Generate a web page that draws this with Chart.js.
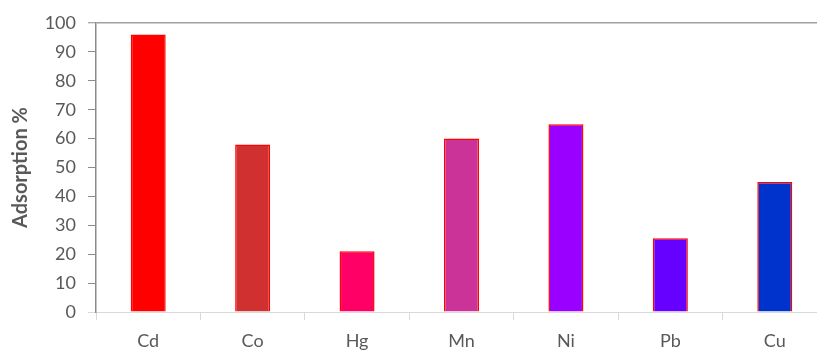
<!DOCTYPE html>
<html>
<head>
<meta charset="utf-8">
<script src="https://cdn.jsdelivr.net/npm/chart.js@4.4.1/dist/chart.umd.min.js"></script>
<style>
  html, body { margin: 0; padding: 0; background: #ffffff; overflow: hidden; }
  #wrap { width: 840px; height: 353px; }
</style>
</head>
<body>
<div id="wrap"><canvas id="chart" width="840" height="353"></canvas></div>
<script>
// Metal ions and their adsorption percentages
const metals = ['Cd', 'Co', 'Hg', 'Mn', 'Ni', 'Pb', 'Cu'];
const adsorption = [96, 58, 21, 60, 65, 25.5, 45];
const barColors = ['#FF0000', '#D03030', '#FF0066', '#CC3399', '#9900FF', '#6600FF', '#0033CC'];
const yMin = 0;
const yMax = 100;
const yStep = 10;
const yTitle = 'Adsorption %';

const textColor = '#595959';
const font = { family: 'Lato, "Liberation Sans", sans-serif', size: 18 };

new Chart(document.getElementById('chart'), {
  type: 'bar',
  data: {
    labels: metals,
    datasets: [{
      data: adsorption,
      backgroundColor: barColors,
      borderColor: '#FF0000',
      borderWidth: 1.5,
      barPercentage: 0.335,
      categoryPercentage: 1
    }]
  },
  options: {
    responsive: false,
    animation: false,
    devicePixelRatio: 1,
    layout: { padding: { top: 23, right: 13, bottom: 0, left: 0 } },
    plugins: { legend: { display: false }, tooltip: { enabled: false } },
    scales: {
      x: {
        afterFit: (s) => { s.height = 41; },
        grid: {
          offset: true,
          drawOnChartArea: false,
          tickColor: '#D9D9D9',
          tickLength: 8,
          tickWidth: 1
        },
        border: { color: '#D9D9D9', width: 1 },
        ticks: { color: textColor, font: font, padding: 10 }
      },
      y: {
        min: yMin,
        max: yMax,
        afterFit: (s) => { s.width = 96; },
        grid: {
          color: (c) => (c.tick && c.tick.value === yMax ? '#A0A0A0' : 'rgba(0,0,0,0)'),
          lineWidth: (c) => (c.tick && c.tick.value === yMax ? 1.5 : 1),
          tickColor: (c) => (c.tick && c.tick.value === yMin ? '#D9D9D9' : '#8C8C8C'),
          tickLength: 8,
          tickWidth: 1
        },
        border: { color: '#8C8C8C', width: 1.5 },
        ticks: { stepSize: yStep, color: textColor, font: font, padding: 12 },
        title: {
          display: true,
          text: yTitle,
          color: textColor,
          font: { family: font.family, size: 20, weight: 'bold' },
          padding: { top: 9, bottom: 0 }
        }
      }
    }
  }
});
</script>
</body>
</html>
